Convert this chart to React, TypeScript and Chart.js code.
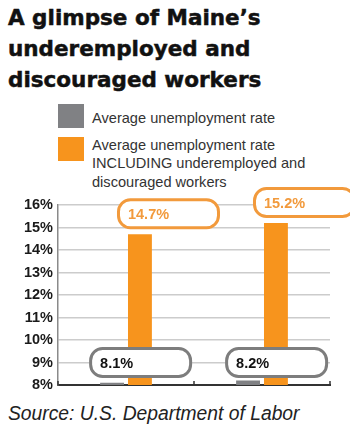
import React, { useEffect, useRef } from 'react';
import { Chart, registerables } from 'chart.js';

Chart.register(...registerables);

// ---- data ----
const categories = ['Period 1', 'Period 2'];
const avgRate = [8.1, 8.2];
const avgRateIncluding = [14.7, 15.2];
const yMin = 8;
const yMax = 16;
const titleLines = ['A glimpse of Maine\u2019s', 'underemployed and', 'discouraged workers'];
const seriesNames = [
  'Average unemployment rate',
  'Average unemployment rate INCLUDING underemployed and discouraged workers',
];
const legendLines = [
  ['Average unemployment rate'],
  ['Average unemployment rate', 'INCLUDING underemployed and', 'discouraged workers'],
];
const sourceText = 'Source: U.S. Department of Labor';

const GRAY = '#808184';
const ORANGE = '#F7941D';
const GRAY_BOX = '#7d7d7d';
const ORANGE_BOX = '#F29A3C';

const boxPlugin = {
  id: 'valueBoxes',
  afterDatasetsDraw(chart: any) {
    const ctx = chart.ctx;
    const yScale = chart.scales.y;
    chart.data.datasets.forEach((ds: any, di: number) => {
      const meta = chart.getDatasetMeta(di);
      meta.data.forEach((bar: any, i: number) => {
        const p = bar.getProps(['x', 'y', 'width'], true);
        const h = 31;
        const w = 103;
        const left = p.x - p.width / 2 - 11;
        const cy = di === 0 ? yScale.getPixelForValue(ds.boxAnchor) : p.y - 5 - h / 2;
        const top = cy - h / 2;
        ctx.save();
        ctx.beginPath();
        ctx.roundRect(left + 1.5, top + 1.5, w - 3, h - 3, 12);
        ctx.fillStyle = '#ffffff';
        ctx.fill();
        ctx.lineWidth = 3;
        ctx.strokeStyle = ds.boxColor;
        ctx.stroke();
        ctx.fillStyle = ds.textColor;
        ctx.font = 'bold 14.5px "Liberation Sans", Arial, sans-serif';
        ctx.textBaseline = 'middle';
        ctx.textAlign = 'left';
        const v = ds.data[i] as number;
        ctx.fillText(v.toFixed(1) + '%', left + 11, cy + 1);
        ctx.restore();
      });
    });
  },
};

const tickMarkPlugin = {
  id: 'xTickMarks',
  afterDraw(chart: any) {
    const x = chart.scales.x;
    const ctx = chart.ctx;
    const n = chart.data.labels.length;
    ctx.save();
    ctx.strokeStyle = '#333333';
    ctx.lineWidth = 1.5;
    for (let k = 0; k <= n; k++) {
      const px = x.left + (k * x.width) / n;
      ctx.beginPath();
      ctx.moveTo(px, x.top);
      ctx.lineTo(px, x.top - 4);
      ctx.stroke();
    }
    ctx.restore();
  },
};

function ChartCanvas() {
  const ref = useRef<HTMLCanvasElement | null>(null);
  useEffect(() => {
    if (!ref.current) return;
    const chart = new Chart(ref.current, {
      type: 'bar',
      data: {
        labels: categories,
        datasets: [
          {
            label: seriesNames[0],
            data: avgRate,
            backgroundColor: GRAY,
            boxColor: GRAY_BOX,
            textColor: '#111111',
            boxAnchor: 9,
          } as any,
          {
            label: seriesNames[1],
            data: avgRateIncluding,
            backgroundColor: ORANGE,
            boxColor: ORANGE_BOX,
            textColor: ORANGE_BOX,
          } as any,
        ],
      },
      options: {
        animation: false,
        responsive: true,
        maintainAspectRatio: false,
        categoryPercentage: 0.41,
        barPercentage: 0.857,
        layout: { padding: { top: 25, right: 20, bottom: 5, left: 0 } },
        plugins: {
          legend: { display: false },
          tooltip: { enabled: false },
        },
        scales: {
          x: {
            ticks: { display: false },
            grid: { display: true, drawOnChartArea: false, drawTicks: false },
            border: { display: true, color: '#333333', width: 2 },
            afterFit: (s: any) => {
              s.height = 10;
            },
          },
          y: {
            min: yMin,
            max: yMax,
            ticks: {
              stepSize: 1,
              padding: 5,
              color: '#1a1a1a',
              font: { family: '"Liberation Sans", Arial, sans-serif', size: 14.5, weight: 'bold' },
              callback: (v: any) => v + '%',
            },
            grid: { color: '#cccccc', lineWidth: 1.5, drawTicks: false },
            border: { display: true, color: '#8a8a8a', width: 1.5 },
            afterFit: (s: any) => {
              s.width = 58;
            },
          },
        },
      } as any,
      plugins: [boxPlugin, tickMarkPlugin],
    });
    return () => chart.destroy();
  }, []);
  return (
    <div style={{ position: 'absolute', left: 0, top: 180, width: 350, height: 220 }}>
      <canvas ref={ref} />
    </div>
  );
}

export default function App() {
  const swatches = [GRAY, ORANGE];
  const swatchTops = [104, 137];
  const textTops = [108.7, 135.8];
  return (
    <div style={{ position: 'absolute', left: 0, top: 0, width: 350, height: 438, background: '#fff', overflow: 'hidden' }}>
      <div
        style={{
          position: 'absolute',
          left: 8,
          top: 2,
          fontFamily: '"DejaVu Sans", sans-serif',
          fontWeight: 'bold',
          fontSize: 21.5,
          lineHeight: '31px',
          color: '#111',
          whiteSpace: 'nowrap',
          WebkitTextStroke: '0.5px #111',
        }}
      >
        {titleLines.map((t, i) => (
          <div key={i}>{t}</div>
        ))}
      </div>
      {legendLines.map((lines, i) => (
        <React.Fragment key={i}>
          <div
            style={{
              position: 'absolute',
              left: 58,
              top: swatchTops[i],
              width: 26,
              height: 24,
              background: swatches[i],
            }}
          />
          <div
            style={{
              position: 'absolute',
              left: 92,
              top: textTops[i],
              fontFamily: '"Liberation Sans", Arial, sans-serif',
              fontSize: 14.6,
              lineHeight: '18.5px',
              color: '#333',
              whiteSpace: 'nowrap',
            }}
          >
            {lines.map((l, j) => (
              <div key={j}>{l}</div>
            ))}
          </div>
        </React.Fragment>
      ))}
      <ChartCanvas />
      <div
        style={{
          position: 'absolute',
          left: 8,
          top: 403.4,
          fontFamily: '"Liberation Sans", Arial, sans-serif',
          fontStyle: 'italic',
          fontSize: 19.3,
          lineHeight: '22px',
          color: '#222',
          whiteSpace: 'nowrap',
        }}
      >
        {sourceText}
      </div>
    </div>
  );
}
